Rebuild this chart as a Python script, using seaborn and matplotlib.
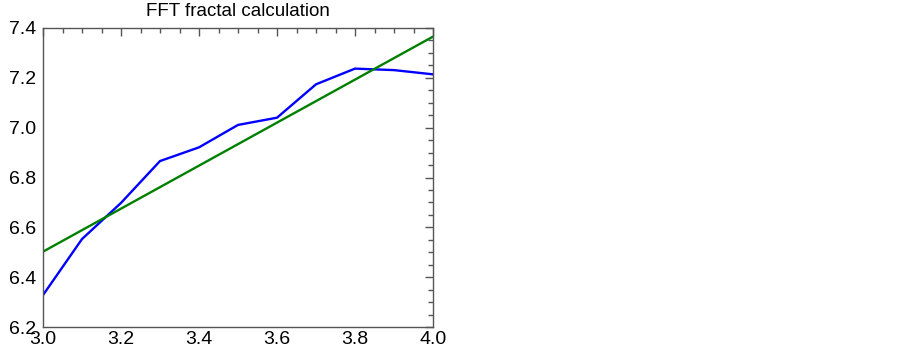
"""
plot.py
----------------------------------
FFT fractal calculation: log power vs log frequency with a linear fit.
"""

import numpy as np
import pandas as pd
import matplotlib
matplotlib.use("Agg")
import matplotlib.pyplot as plt
from matplotlib.ticker import MultipleLocator, FormatStrFormatter
import seaborn as sns

# --------------------------------------------------------------------------
# Data
# --------------------------------------------------------------------------
LOG_FREQ = [3.0, 3.1, 3.2, 3.3, 3.4, 3.5, 3.6, 3.7, 3.8, 3.9, 4.0]
LOG_POWER = [6.328, 6.553, 6.698, 6.866, 6.921, 7.011, 7.040, 7.174, 7.237, 7.231, 7.214]
TITLE = "FFT fractal calculation"

sns.set_style("white")
plt.rcParams["font.family"] = ["Liberation Sans", "DejaVu Sans"]

df = pd.DataFrame({"x": LOG_FREQ, "y": LOG_POWER})

fig = plt.figure(figsize=(9.03, 3.5), dpi=100)
ax = fig.add_axes([43 / 903, 23 / 350, 390 / 903, 299 / 350])

sns.lineplot(data=df, x="x", y="y", ax=ax, color="#0000ff", linewidth=1.7)
# least-squares fit, drawn by seaborn
sns.regplot(data=df, x="x", y="y", ax=ax, scatter=False, ci=None,
            color="#008000", line_kws={"linewidth": 1.7})

ax.set_xlim(3.0, 4.0)
ax.set_ylim(6.2, 7.4)
ax.xaxis.set_major_locator(MultipleLocator(0.2))
ax.xaxis.set_minor_locator(MultipleLocator(0.05))
ax.yaxis.set_major_locator(MultipleLocator(0.2))
ax.yaxis.set_minor_locator(MultipleLocator(0.05))
ax.xaxis.set_major_formatter(FormatStrFormatter("%.1f"))
ax.yaxis.set_major_formatter(FormatStrFormatter("%.1f"))

ax.tick_params(which="both", direction="in", top=True, right=True,
               color="#555555", width=1.0, labelsize=14, labelcolor="black")
ax.tick_params(which="major", length=6)
ax.tick_params(which="minor", length=3.5)
ax.tick_params(axis="x", pad=3)
ax.tick_params(axis="y", pad=5)

for spine in ax.spines.values():
    spine.set_color("#555555")
    spine.set_linewidth(1.0)

ax.set_xlabel("")
ax.set_ylabel("")
ax.set_title(TITLE, fontsize=13.5, color="black", pad=8.5)

fig.savefig("out.png", dpi=100)
